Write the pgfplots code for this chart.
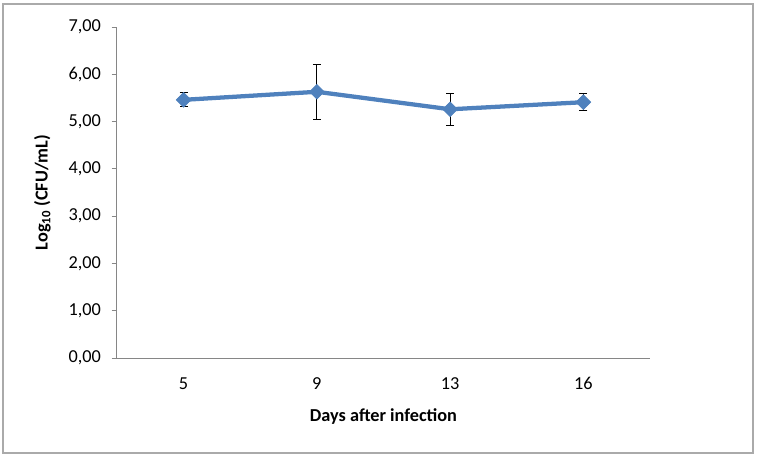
\documentclass[border=0pt]{standalone}
\usepackage{pgfplots}
\pgfplotsset{compat=1.18}
\usepackage{fontspec}
\setmainfont{Carlito}
\definecolor{exblue}{HTML}{4F81BD}
\definecolor{axgray}{HTML}{868686}
\begin{document}
\begin{tikzpicture}[x=1pt,y=1pt]
\path[use as bounding box] (-87.75,-75) rectangle (480,268.5);
\draw[color=axgray!70, line width=0.9pt] (-85.5,-71.25) rectangle (477,265.5);
\begin{axis}[
  at={(0,0)}, anchor=origin,
  scale only axis,
  width=399.75pt, height=248.25pt,
  xmin=0.5, xmax=4.5, ymin=0, ymax=7,
  axis x line=bottom, axis y line=left,
  axis line style={-, color=axgray, line width=0.75pt},
  xtick={1,2,3,4}, xticklabels={5,9,13,16},
  minor xtick={0.5,1.5,2.5,3.5,4.5},
  ytick={0,1,...,7},
  tick align=outside,
  major tick length=4pt,
  minor tick length=4pt,
  xtick style={draw=none},
  every minor tick/.style={draw=axgray, line width=0.75pt},
  ytick style={draw=axgray, line width=0.75pt},
  /pgf/number format/assume math mode=true,
  /pgf/number format/fixed,
  /pgf/number format/fixed zerofill,
  /pgf/number format/precision=2,
  /pgf/number format/use comma,
  tick label style={font=\fontsize{13.7}{16}\selectfont},
  xticklabel style={yshift=-7pt},
  yticklabel style={xshift=-4.5pt},
  every axis y label/.style={at={(axis description cs:0,0.5)}, rotate=90, anchor=center, yshift=56pt},
  every axis x label/.style={at={(axis description cs:0.5,0)}, anchor=center, yshift=-44pt},
  label style={font=\bfseries\fontsize{13.7}{16}\selectfont},
  ylabel={Log\textsubscript{10} (CFU/mL)},
  xlabel={Days after infection},
  clip=false,
]
\addplot[color=exblue, line width=3.2pt, mark=square*, mark size=3.9pt,
  mark options={rotate=45, fill=exblue, draw=exblue, line width=0.5pt},
  error bars/.cd, y dir=both, y explicit,
  error bar style={black, line width=0.75pt},
  error mark options={black, line width=0.75pt, rotate=90, mark size=3pt}]
  coordinates {
  (1,5.46) +- (0,0.15)
  (2,5.63) +- (0,0.58)
  (3,5.26) +- (0,0.34)
  (4,5.41) +- (0,0.18)
  };
\end{axis}
\end{tikzpicture}
\end{document}
